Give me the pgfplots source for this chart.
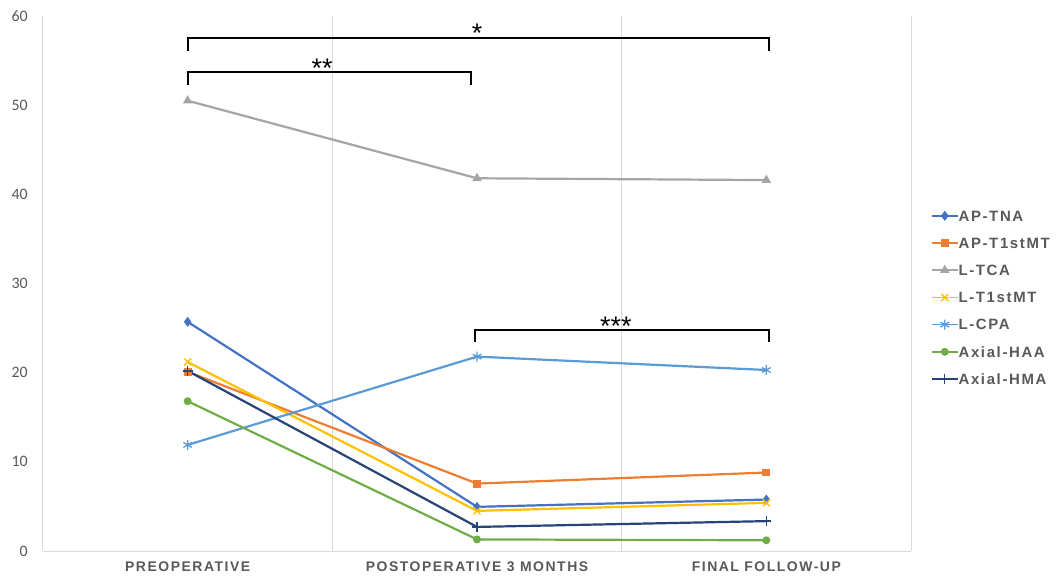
\documentclass[border=0pt]{standalone}
\usepackage{fontspec}
\setmainfont{Liberation Sans}
\newfontfamily\calfont{Carlito}
\newfontfamily\spfont[LetterSpace=11]{Liberation Sans}
\usepackage{pgfplots}
\pgfplotsset{compat=1.18}
\definecolor{cBlue}{HTML}{4472C4}
\definecolor{cOrange}{HTML}{ED7D31}
\definecolor{cGray}{HTML}{A5A5A5}
\definecolor{cYellow}{HTML}{FFC000}
\definecolor{cLBlue}{HTML}{5B9BD5}
\definecolor{cGreen}{HTML}{70AD47}
\definecolor{cNavy}{HTML}{264478}
\definecolor{gridgray}{HTML}{D9D9D9}
\definecolor{tickgray}{HTML}{595959}
\begin{document}
\begin{tikzpicture}
\begin{axis}[name=ax, scale only axis, width=868bp, height=535bp,
  xmin=-0.5, xmax=2.5, ymin=0, ymax=60,
  xtick={0,1,2},
  xticklabels={PREOPERATIVE, POSTOPERATIVE 3 MONTHS, FINAL FOLLOW-UP},
  ytick={0,10,...,60},
  minor xtick={0.5,1.5,2.5}, xminorgrids,
  minor grid style={draw=gridgray, line width=1bp},
  major tick length=0pt, minor tick length=0pt,
  axis x line*=bottom, axis y line*=left,
  axis line style={draw=gridgray, line width=1bp, -},
  /pgf/number format/assume math mode=true,
  yticklabel style={font=\calfont\fontsize{16}{19}\selectfont, color=tickgray, inner sep=0pt, anchor=east, xshift=-15bp},
  xticklabel style={font=\spfont\bfseries\fontsize{14}{17}\selectfont, color=tickgray, inner sep=0pt, anchor=north, yshift=-11bp},
  clip=false,
  every axis plot/.append style={line width=2.2bp, mark options={solid, line width=1.3bp}},
  legend image code/.code={\draw[line width=1.6bp, mark repeat=2,mark phase=2] plot coordinates {(0bp,0bp) (13bp,0bp) (26bp,0bp)};},
  legend style={at={(1.023,0.474)}, anchor=west, draw=none, fill=none,
    font=\spfont\bfseries\fontsize{15}{18}\selectfont, text=tickgray,
    row sep=16.5bp, column sep=0pt, inner sep=0pt, outer sep=0pt,
    nodes={inner sep=0pt, text height=10.7bp, text depth=0bp}},
  legend cell align=left,
]
\addplot[cBlue, mark=diamond*, mark size=4bp] coordinates {(0,25.7) (1,4.95) (2,5.77)};
\addlegendentry{AP-TNA}
\addplot[cOrange, mark=square*, mark size=3.3bp] coordinates {(0,20.1) (1,7.56) (2,8.8)};
\addlegendentry{AP-T1stMT}
\addplot[cGray, mark=triangle*, mark size=4.2bp] coordinates {(0,50.5) (1,41.8) (2,41.6)};
\addlegendentry{L-TCA}
\addplot[cYellow, mark=x, mark size=5bp] coordinates {(0,21.2) (1,4.5) (2,5.4)};
\addlegendentry{L-T1stMT}
\addplot[cLBlue, mark=asterisk, mark size=5bp] coordinates {(0,11.9) (1,21.8) (2,20.3)};
\addlegendentry{L-CPA}
\addplot[cGreen, mark=*, mark size=3.3bp] coordinates {(0,16.8) (1,1.3) (2,1.2)};
\addlegendentry{Axial-HAA}
\addplot[cNavy, mark=+, mark size=5bp] coordinates {(0,20.2) (1,2.7) (2,3.35)};
\addlegendentry{Axial-HMA}
% significance brackets
\draw[black, line width=2bp] (axis cs:0,56.1) -- (axis cs:0,57.54) -- (axis cs:2.01,57.54) -- (axis cs:2.01,56.1);
\node[anchor=base, inner sep=0pt, font=\fontsize{27}{30}\selectfont, yshift=-5bp] at (axis cs:1.0,57.54) {*};
\draw[black, line width=2bp] (axis cs:0,52.27) -- (axis cs:0,53.67) -- (axis cs:0.978,53.67) -- (axis cs:0.978,52.27);
\node[anchor=base, inner sep=0pt, font=\fontsize{27}{30}\selectfont, yshift=-5bp] at (axis cs:0.465,53.67) {**};
\draw[black, line width=2bp] (axis cs:0.994,23.4) -- (axis cs:0.994,24.77) -- (axis cs:2.008,24.77) -- (axis cs:2.008,23.4);
\node[anchor=base, inner sep=0pt, font=\fontsize{27}{30}\selectfont, yshift=-5bp] at (axis cs:1.48,24.77) {***};
\end{axis}
\pgfresetboundingbox
\path ([shift={(-43bp,-30bp)}]ax.south west) rectangle ([shift={(145bp,16bp)}]ax.north east);
\end{tikzpicture}
\end{document}
